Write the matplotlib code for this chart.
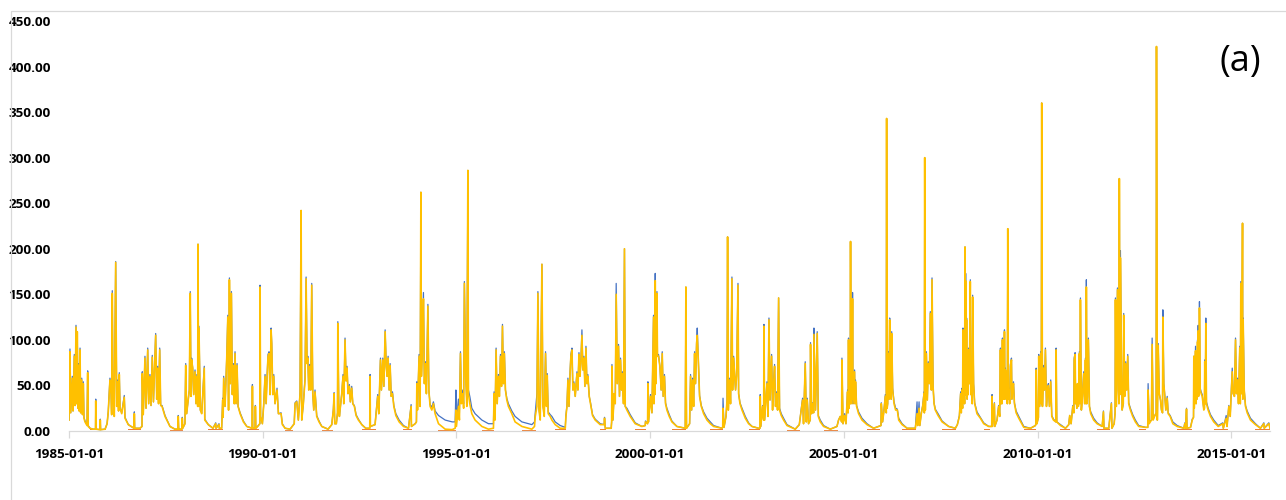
import matplotlib
matplotlib.use("Agg")
import matplotlib.pyplot as plt
from matplotlib.patches import Rectangle
import pandas as pd

# Daily discharge readings, one line per hydrological year (wet season peaks + recession)
dates = [
    "1985-01-01","1985-01-10","1985-01-17","1985-02-01","1985-02-08","1985-02-20","1985-02-27","1985-03-08","1985-03-15","1985-03-20","1985-03-27","1985-04-01","1985-04-07","1985-04-15","1985-04-21","1985-05-01","1985-05-08","1985-05-16","1985-05-22","1985-06-01","1985-06-20","1985-06-26","1985-07-01","1985-07-18","1985-08-15","1985-09-08","1985-09-10","1985-09-13","1985-10-20","1985-10-23","1985-10-26","1985-12-07","1985-12-26",
    "1986-01-06","1986-01-22","1986-02-01","1986-02-07","1986-02-13","1986-02-20","1986-03-04","1986-03-17","1986-03-27","1986-04-05","1986-04-13","1986-04-20","1986-04-27","1986-05-13","1986-06-06","1986-06-13","1986-07-14","1986-09-06","1986-09-09","1986-09-12","1986-11-01",
    "1986-11-20","1986-11-23","1986-12-02","1986-12-18","1986-12-28","1987-01-13","1987-01-22","1987-02-03","1987-02-13","1987-02-25","1987-03-08","1987-03-29","1987-04-08","1987-04-17","1987-04-25","1987-05-06","1987-05-15","1987-05-28","1987-06-25","1987-08-11","1987-09-27","1987-10-25","1987-10-28","1987-11-01","1987-12-02","1987-12-05","1987-12-09",
    "1987-12-30","1988-01-06","1988-01-15","1988-01-30","1988-02-09","1988-02-18","1988-02-25","1988-03-02","1988-03-12","1988-03-21","1988-04-03","1988-04-12","1988-04-21","1988-04-28","1988-05-01","1988-05-06","1988-05-10","1988-05-23","1988-06-05","1988-06-29","1988-07-04","1988-08-06","1988-09-19","1988-10-15","1988-10-18","1988-11-15","1988-11-18","1988-12-10",
    "1988-12-20","1988-12-24","1988-12-29","1989-01-11","1989-01-27","1989-02-06","1989-02-13","1989-02-21","1989-03-02","1989-03-12","1989-03-21","1989-03-30","1989-04-08","1989-04-15","1989-04-25","1989-05-04","1989-05-14","1989-06-02","1989-07-03","1989-08-04","1989-09-23","1989-09-26","1989-09-29","1989-10-21","1989-10-24","1989-10-28","1989-11-14",
    "1989-12-05","1989-12-07","1989-12-12","1989-12-29","1990-01-11","1990-01-23","1990-02-02","1990-02-11","1990-02-20","1990-03-02","1990-03-11","1990-03-21","1990-03-27","1990-04-06","1990-04-15","1990-04-27","1990-05-16","1990-05-29","1990-06-23","1990-07-05","1990-07-31","1990-09-16","1990-10-05",
    "1990-10-25","1990-11-02","1990-11-18","1990-12-03","1990-12-19","1990-12-29","1991-01-04","1991-01-19","1991-02-04","1991-02-14","1991-02-23","1991-03-02","1991-03-11","1991-03-20","1991-03-30","1991-04-08","1991-04-18","1991-04-27","1991-05-09","1991-05-25","1991-06-16","1991-07-12","1991-09-09",
    "1991-10-14","1991-10-29","1991-11-05","1991-11-11","1991-11-26","1991-12-07","1991-12-10","1991-12-19","1991-12-25","1992-01-16","1992-01-28","1992-02-04","1992-02-16","1992-02-26","1992-03-06","1992-03-15","1992-03-28","1992-04-06","1992-04-19","1992-04-29","1992-05-14","1992-05-30","1992-06-21","1992-07-23","1992-08-29","1992-10-06","1992-10-09","1992-10-12","1992-11-25",
    "1992-12-11","1992-12-20","1992-12-30","1993-01-15","1993-01-24","1993-02-06","1993-02-16","1993-02-28","1993-03-10","1993-03-19","1993-03-28","1993-04-07","1993-04-16","1993-04-26","1993-05-08","1993-05-21","1993-06-09","1993-07-10","1993-08-20","1993-10-06","1993-10-31","1993-11-03","1993-12-08",
    "1993-12-20","1993-12-24","1993-12-30","1994-01-14","1994-01-24","1994-01-31","1994-02-05","1994-02-15","1994-02-24","1994-03-05","1994-03-15","1994-03-24","1994-04-07","1994-04-16","1994-04-28","1994-05-14","1994-05-29","1994-06-14","1994-07-16","1994-09-17","1994-11-22","1994-12-20","1994-12-27","1995-01-01",
    "1995-01-20","1995-01-29","1995-02-08","1995-02-17","1995-03-02","1995-03-10","1995-03-17","1995-03-29","1995-04-09","1995-04-19","1995-04-24","1995-05-07","1995-05-26","1995-06-26","1995-08-29","1995-10-30","1995-12-16",
    "1995-12-22","1995-12-31","1996-01-10","1996-01-20","1996-02-01","1996-02-10","1996-02-20","1996-03-01","1996-03-10","1996-03-19","1996-03-28","1996-04-07","1996-04-20","1996-05-05","1996-06-06","1996-07-07","1996-09-09","1996-12-12","1997-01-06",
    "1997-01-13","1997-01-29","1997-02-07","1997-02-17","1997-03-01","1997-03-17","1997-03-26","1997-04-08","1997-04-20","1997-04-29","1997-05-06","1997-05-15","1997-06-03","1997-06-19","1997-07-20","1997-09-05","1997-10-23",
    "1997-10-29","1997-11-08","1997-11-17","1997-11-27","1997-12-06","1997-12-15","1997-12-25","1998-01-03","1998-01-12","1998-01-25","1998-02-10","1998-02-19","1998-03-01","1998-03-10","1998-03-19","1998-03-29","1998-04-07","1998-04-17","1998-04-26","1998-05-06","1998-05-15","1998-05-24","1998-06-06","1998-06-18","1998-07-07","1998-08-01","1998-09-17","1998-10-25","1998-10-28","1998-11-04","1998-12-30",
    "1999-01-03","1999-01-06","1999-01-15","1999-01-27","1999-02-06","1999-02-15","1999-02-25","1999-03-09","1999-03-18","1999-03-28","1999-04-06","1999-04-15","1999-04-25","1999-05-04","1999-05-11","1999-05-27","1999-06-27","1999-08-13","1999-10-15","1999-11-16","1999-11-18","1999-12-08","1999-12-11","1999-12-17",
    "2000-01-04","2000-01-18","2000-02-02","2000-02-06","2000-02-11","2000-02-14","2000-02-18","2000-02-24","2000-03-05","2000-03-10","2000-03-20","2000-04-02","2000-04-14","2000-04-24","2000-05-03","2000-05-15","2000-05-25","2000-06-07","2000-06-29","2000-07-24","2000-09-09","2000-11-27","2000-12-03","2000-12-09","2001-01-07",
    "2001-01-16","2001-01-26","2001-02-04","2001-02-14","2001-02-23","2001-03-04","2001-03-14","2001-03-20","2001-03-30","2001-04-11","2001-04-27","2001-05-19","2001-06-20","2001-07-21","2001-08-21","2001-11-08",
    "2001-11-15","2001-11-18","2001-11-27","2001-12-16","2001-12-26","2001-12-31","2002-01-07","2002-01-16","2002-01-28","2002-02-10","2002-02-16","2002-02-26","2002-03-07","2002-03-16","2002-03-26","2002-04-08","2002-04-14","2002-04-27","2002-05-16","2002-06-16","2002-07-17","2002-08-18","2002-10-19",
    "2002-11-01","2002-11-04","2002-11-09","2002-11-26","2002-12-06","2002-12-09","2002-12-15","2003-01-06","2003-01-16","2003-01-25","2003-02-04","2003-02-19","2003-02-28","2003-03-10","2003-03-19","2003-03-28","2003-04-07","2003-04-16","2003-04-26","2003-05-05","2003-05-21","2003-06-12","2003-07-14","2003-09-30","2003-11-07",
    "2003-12-08","2003-12-17","2004-01-02","2004-01-12","2004-01-21","2004-02-02","2004-02-18","2004-02-21","2004-03-02","2004-03-11","2004-03-21","2004-03-24","2004-03-30","2004-04-08","2004-04-24","2004-05-04","2004-05-23","2004-06-23","2004-08-25","2004-10-27","2004-11-11",
    "2004-11-27","2004-12-10","2004-12-13","2004-12-23","2005-01-07","2005-01-20","2005-02-04","2005-02-09","2005-02-13","2005-02-17","2005-02-23","2005-03-01","2005-03-04","2005-03-09","2005-03-14","2005-03-18","2005-03-23","2005-03-27","2005-04-01","2005-04-11","2005-04-15","2005-04-20","2005-04-30","2005-05-19","2005-06-20","2005-08-06","2005-10-07","2005-11-23",
    "2005-12-16","2005-12-19","2005-12-31","2006-01-14","2006-01-26","2006-02-04","2006-02-07","2006-02-12","2006-02-17","2006-02-26","2006-03-02","2006-03-08","2006-03-12","2006-03-17","2006-03-22","2006-03-27","2006-04-05","2006-04-18","2006-05-03","2006-05-19","2006-06-01","2006-07-03","2006-08-19","2006-11-05","2006-11-21","2006-11-27","2006-12-10","2006-12-17",
    "2006-12-31","2007-01-13","2007-01-26","2007-01-29","2007-02-01","2007-02-07","2007-02-17","2007-02-26","2007-03-07","2007-03-17","2007-03-26","2007-04-05","2007-04-11","2007-04-21","2007-04-30","2007-05-12","2007-06-07","2007-07-15","2007-09-15","2007-11-17","2007-12-06",
    "2007-12-25","2008-01-06","2008-01-12","2008-01-19","2008-01-24","2008-01-28","2008-02-02","2008-02-07","2008-02-12","2008-02-16","2008-02-19","2008-02-22","2008-02-26","2008-03-02","2008-03-07","2008-03-12","2008-03-17","2008-03-21","2008-03-28","2008-04-06","2008-04-11","2008-04-16","2008-04-24","2008-04-28","2008-05-07","2008-05-17","2008-06-08","2008-07-10","2008-08-10","2008-09-26","2008-10-25","2008-10-28","2008-11-02","2008-11-19","2008-11-23","2008-12-14",
    "2008-12-29","2009-01-08","2009-01-15","2009-01-20","2009-01-24","2009-01-29","2009-02-03","2009-02-08","2009-02-12","2009-02-17","2009-02-22","2009-02-27","2009-03-03","2009-03-13","2009-03-21","2009-03-25","2009-03-30","2009-04-05","2009-04-12","2009-04-19","2009-04-29","2009-05-03","2009-05-08","2009-05-18","2009-05-27","2009-06-12","2009-07-07","2009-08-23","2009-10-25","2009-12-11",
    "2009-12-15","2009-12-18","2009-12-25","2010-01-08","2010-01-11","2010-01-20","2010-01-30","2010-02-04","2010-02-08","2010-02-15","2010-02-24","2010-03-06","2010-03-15","2010-03-25","2010-04-03","2010-04-12","2010-04-22","2010-05-04","2010-05-14","2010-05-30","2010-06-21","2010-06-24","2010-06-30","2010-08-04","2010-09-20","2010-10-21",
    "2010-10-30","2010-11-12","2010-11-28","2010-12-08","2010-12-11","2010-12-20","2010-12-25","2010-12-30","2011-01-05","2011-01-11","2011-01-20","2011-01-29","2011-02-03","2011-02-08","2011-02-17","2011-02-27","2011-03-11","2011-03-20","2011-03-27","2011-04-01","2011-04-05","2011-04-10","2011-04-15","2011-04-24","2011-05-04","2011-05-16","2011-06-13","2011-07-15","2011-09-01","2011-09-13","2011-09-18","2011-11-02","2011-11-27","2011-12-02",
    "2011-12-23","2012-01-01","2012-01-04","2012-01-13","2012-01-23","2012-02-01","2012-02-06","2012-02-10","2012-02-15","2012-02-20","2012-03-01","2012-03-07","2012-03-18","2012-03-22","2012-03-31","2012-04-10","2012-04-19","2012-04-29","2012-05-08","2012-05-24","2012-06-15","2012-07-10","2012-08-10","2012-10-13","2012-11-04","2012-11-07","2012-11-17","2012-12-08","2012-12-15","2012-12-24",
    "2013-01-06","2013-01-22","2013-01-25","2013-02-02","2013-02-10","2013-02-20","2013-03-04","2013-03-13","2013-03-23","2013-03-26","2013-04-04","2013-04-13","2013-04-23","2013-05-06","2013-05-15","2013-06-03","2013-06-28","2013-08-08","2013-10-10","2013-10-19","2013-10-26","2013-11-04","2013-11-09","2013-12-12","2013-12-28",
    "2014-01-09","2014-01-12","2014-01-16","2014-01-20","2014-01-28","2014-02-02","2014-02-06","2014-02-11","2014-02-16","2014-02-19","2014-02-22","2014-02-25","2014-02-28","2014-03-03","2014-03-06","2014-03-13","2014-03-22","2014-04-01","2014-04-16","2014-04-22","2014-04-25","2014-04-30","2014-05-05","2014-05-11","2014-05-27","2014-06-18","2014-07-19","2014-08-30","2014-10-12","2014-10-17","2014-11-13","2014-11-21",
    "2014-12-08","2014-12-21","2015-01-09","2015-01-18","2015-01-30","2015-02-09","2015-02-18","2015-02-28","2015-03-09","2015-03-21","2015-03-26","2015-03-31","2015-04-08","2015-04-16","2015-04-19","2015-04-22","2015-05-02","2015-05-14","2015-05-30","2015-06-30","2015-08-16","2015-10-02","2015-11-03","2015-11-07","2015-12-20","2015-12-31",
]

gold = [
    12,87,20,58,22,82,28,114,30,109,25,72,22,89,20,56,18,52,14,10,6,64,5,3,2,2,33,2,1.5,12,1.5,2,8,
    21,56,45,18,151,41,16,185,27,54,22,62,25,19,37,14,7,3,19,3,3,
    5,63,18,80,25,89,30,60,28,81,32,105,35,69,30,89,28,27,16,5,2,2,16,2,2,14,3,
    8,72,19,34,45,151,38,78,69,40,65,30,60,27,205,27,113,23,19,69,12,7,3,8,3,7,3,3,
    34,15,58,27,80,125,23,166,52,151,40,72,30,85,30,72,27,19,10,5,3,49,3,3,27,3,5,
    8,158,16,8,30,60,30,58,82,85,40,111,96,40,60,30,45,19,19,7,3,2,5,
    8,30,32,12,41,242,12,30,56,167,74,80,45,71,45,160,41,23,43,16,10,5,2,
    7,23,41,8,8,20,118,27,16,41,60,30,100,55,69,41,49,32,47,30,27,17,12,7,3,3,60,5,7,
    27,38,19,78,45,78,49,109,71,60,80,45,72,38,41,27,17,10,5,3,27,5,8,
    10,52,23,82,27,262,60,100,145,52,74,41,137,45,27,23,30,19,8,2,1.5,3,23,5,
    27,12,85,30,41,25,162,60,27,286,41,30,19,12,5,2,3,
    41,12,89,30,60,38,82,49,115,52,85,45,34,27,19,10,5,2,5,
    16,27,151,23,12,183,27,16,85,27,61,19,16,12,7,3,3,
    16,27,56,27,60,82,89,45,52,38,63,45,84,60,74,105,67,80,49,91,52,60,38,30,17,12,7,7,14,3,3,
    10,71,12,41,30,150,52,93,38,78,45,63,30,200,27,23,16,8,5,6,10,8,52,10,
    38,20,125,30,89,40,165,52,151,82,82,71,45,85,38,60,30,23,16,10,5,3,158,3,8,
    60,23,56,27,85,52,96,105,78,38,27,19,12,8,5,3,
    4,25,4,16,34,213,23,56,30,167,45,80,63,45,60,160,41,30,23,14,8,5,3,
    3,38,5,27,12,115,12,52,16,122,34,82,23,52,71,27,41,23,146,23,17,12,6,2,7,
    34,8,74,10,34,8,12,95,19,30,20,106,71,23,107,16,10,5,2,5,12,
    16,10,78,8,17,8,43,20,100,25,60,30,208,30,107,35,145,30,41,65,30,54,27,19,12,7,3,5,
    6,30,10,23,38,20,343,25,30,85,35,122,40,71,35,107,45,30,23,23,12,7,3,3,19,6,25,6,
    19,27,41,20,300,23,85,34,74,52,129,45,166,49,30,23,17,10,5,3,7,
    16,41,20,45,25,111,35,60,30,202,40,165,40,122,35,71,40,89,52,164,40,45,30,147,52,30,19,14,8,5,5,38,5,30,5,12,
    27,16,89,30,52,30,100,35,60,35,109,35,67,38,30,222,35,45,30,71,78,35,45,52,30,20,14,4,3,6,
    8,67,8,15,82,27,85,30,360,27,69,45,89,27,45,50,27,54,16,12,10,89,10,6,3,7,
    17,8,27,20,78,84,30,38,25,52,27,85,30,144,23,38,63,30,78,30,158,30,38,100,27,19,12,8,5,21,3,3,30,3,
    8,20,144,27,155,45,30,277,40,190,71,23,30,127,38,74,45,82,30,23,16,10,5,4,4,45,8,12,95,12,
    16,20,422,12,94,41,34,23,20,125,52,38,23,36,19,16,8,5,3,8,3,24,3,4,12,
    15,82,25,41,88,30,60,35,98,40,110,38,71,40,135,45,41,38,23,25,76,30,118,30,23,16,10,5,8,3,14,5,
    27,16,65,41,38,100,41,56,30,91,30,162,41,228,35,122,45,27,20,12,7,3,8,3,8,3,
]

blue = [
    12,90,20,60,22,84,28,116,30,109,25,74,22,91,20,58,18,54,15,11,7,66,6,3,2,2,35,2,1.5,13,1.5,2,8,
    21,58,45,18,154,41,16,186,27,56,22,64,25,20,39,15,7,3,21,3,3,
    5,65,18,82,25,91,30,62,28,83,32,107,35,71,30,91,28,28,17,5,2,2,17,2,2,15,3,
    8,74,19,34,45,153,38,80,69,40,67,30,62,27,205,27,115,23,20,71,13,7,3,9,3,8,3,3,
    36,15,60,27,82,127,23,168,52,153,40,74,30,87,30,74,27,20,11,5,3,51,3,3,28,3,5,
    8,160,16,8,30,62,30,60,84,87,40,113,96,40,62,30,47,19,20,8,3,2,5,
    8,31,33,12,43,242,12,30,58,169,74,82,45,73,45,162,41,23,45,17,11,5,2,
    7,24,42,8,8,20,120,27,16,41,62,30,102,55,71,41,51,32,49,30,28,18,13,7,3,3,62,5,7,
    28,40,19,80,45,80,49,111,71,60,82,45,74,38,43,28,19,12,6,3,29,5,8,
    10,54,23,84,27,262,60,102,152,52,76,41,139,45,29,26,32,22,17,12,10,10,45,12,
    35,20,87,35,45,30,164,63,33,286,45,38,25,19,12,8,8,
    43,14,91,30,62,38,84,49,117,52,87,45,36,30,22,16,10,7,10,
    20,41,153,25,14,183,29,18,87,29,63,21,18,16,10,6,4,
    17,28,58,27,62,84,91,45,54,38,65,45,86,60,76,111,67,82,49,93,52,62,38,31,18,13,8,7,15,3,3,
    10,73,12,41,30,162,52,95,38,80,45,65,30,200,27,25,18,9,5,6,11,8,54,10,
    40,20,127,30,89,40,173,52,153,82,84,71,45,87,38,62,31,25,18,11,5,3,158,3,8,
    62,23,58,27,87,52,98,113,80,39,28,21,14,10,6,3,
    4,36,4,16,34,213,23,58,30,169,45,82,63,45,62,162,41,31,25,16,9,5,3,
    3,40,5,28,12,117,12,54,16,124,34,84,23,54,73,27,43,23,146,25,19,14,7,2,7,
    36,8,76,10,36,8,12,97,19,31,20,113,73,23,109,17,12,6,2,5,12,
    16,10,80,8,19,8,45,20,102,25,60,30,208,30,109,35,152,30,41,67,30,56,28,21,14,8,3,5,
    6,31,10,24,40,20,343,25,30,87,35,124,40,73,35,109,47,32,25,24,14,8,3,3,32,6,32,6,
    20,28,43,20,300,23,87,34,76,52,131,45,168,49,31,24,19,11,5,3,7,
    17,43,20,47,25,113,35,62,30,202,40,173,40,124,35,73,40,91,52,166,40,47,30,149,52,31,21,15,9,5,5,40,5,31,5,12,
    28,16,91,30,54,30,102,35,62,35,111,35,69,38,30,222,35,47,30,73,80,35,47,54,31,22,16,5,3,6,
    8,69,8,15,84,27,87,30,360,27,72,45,91,27,47,52,27,56,17,13,10,91,10,7,3,7,
    17,8,28,20,80,86,30,40,25,52,27,87,30,146,23,38,65,30,80,30,166,30,40,102,27,21,14,9,5,22,3,3,31,3,
    8,20,146,27,157,45,30,277,40,198,71,23,30,129,38,76,45,84,31,25,18,12,6,4,4,52,10,12,102,13,
    16,20,422,12,96,41,34,23,20,133,52,40,23,38,20,17,10,6,3,9,3,25,3,4,13,
    15,82,25,41,93,30,60,35,100,40,116,38,71,40,142,47,43,40,24,25,78,30,124,32,25,18,12,6,9,3,17,5,
    28,16,69,41,38,102,41,58,30,93,30,164,41,228,35,124,45,28,22,14,8,3,9,3,9,3,
]

# Dry-season base flow of the third series
orange_start = ["1985-07-18","1986-07-14","1987-08-11","1988-08-06","1989-08-04","1990-07-31","1991-07-12","1992-07-23",
                "1993-08-20","1994-07-16","1995-08-29","1996-09-09","1997-07-20","1998-09-17","1999-08-13","2000-07-24",
                "2001-07-21","2002-07-17","2003-07-14","2004-06-23","2005-08-06","2006-07-03","2007-07-15","2008-08-10",
                "2009-08-23","2010-08-04","2011-07-15","2012-08-10","2013-08-08","2014-07-19","2015-08-16"]
orange_end = ["1985-12-07","1986-11-01","1987-12-02","1988-12-10","1989-11-14","1990-10-05","1991-10-14","1992-11-25",
              "1993-11-03","1994-12-20","1995-12-16","1997-01-06","1997-10-23","1998-11-04","1999-11-16","2000-11-27",
              "2001-11-08","2002-10-19","2003-11-07","2004-10-27","2005-11-23","2006-11-05","2007-11-17","2008-09-26",
              "2009-12-11","2010-10-21","2011-11-02","2012-10-13","2013-12-12","2014-11-21","2015-12-31"]
orange_level = [1.8, 1.8, 1.6, 1.8, 1.8, 1.6, 1.6, 1.8, 1.8, 1.2, 1.2, 1.2, 1.8, 2.0, 2.0, 1.8,
                1.8, 1.8, 1.6, 1.6, 1.8, 1.8, 1.8, 2.0, 1.8, 1.8, 1.8, 1.8, 1.8, 1.8, 1.8]

tick_dates = ["1985-01-01", "1990-01-01", "1995-01-01", "2000-01-01", "2005-01-01", "2010-01-01", "2015-01-01"]
y_ticks = [0, 50, 100, 150, 200, 250, 300, 350, 400, 450]

assert len(dates) == len(gold) == len(blue), (len(dates), len(gold), len(blue))

BLUE = "#4472C4"
ORANGE = "#ED7D31"
GOLD = "#FFC000"
AXIS_GREY = "#D9D9D9"
LABEL_FONT = dict(family="Open Sans", weight="bold", size=9.7)

t = pd.to_datetime(dates)

W, H = 1286, 500
fig = plt.figure(figsize=(W / 100, H / 100), dpi=100)
ax = fig.add_axes([69 / W, 69 / H, 1201 / W, 410 / H])

ax.plot(t, blue, color=BLUE, lw=0.9, zorder=2)
for s, e, lvl in zip(orange_start, orange_end, orange_level):
    ax.plot(pd.to_datetime([s, e]), [lvl, lvl], color=ORANGE, lw=0.7, zorder=2.5)
ax.plot(t, gold, color=GOLD, lw=1.2, zorder=3)

ax.set_xlim(pd.Timestamp("1985-01-01"), pd.Timestamp("2015-12-31"))
ax.set_ylim(0, 450)

ax.set_yticks(y_ticks)
ax.set_yticklabels([f"{v:.2f}" for v in y_ticks], fontdict=LABEL_FONT)
ax.set_xticks(pd.to_datetime(tick_dates))
ax.set_xticklabels(tick_dates, fontdict=LABEL_FONT)

for side in ("top", "right", "left"):
    ax.spines[side].set_visible(False)
ax.spines["bottom"].set_color(AXIS_GREY)
ax.spines["bottom"].set_linewidth(0.9)
ax.tick_params(axis="y", length=0, pad=13, labelcolor="black")
ax.tick_params(axis="x", length=5, width=0.9, color=AXIS_GREY, pad=7, labelcolor="black")
ax.set_facecolor("white")

# Chart frame
fig.add_artist(Rectangle((11 / W, -0.2), 1.5, 1.2 - 11 / H, transform=fig.transFigure,
                         fill=False, edgecolor=AXIS_GREY, linewidth=0.9))

fig.text(1240 / W, 1 - 62 / H, "(a)", ha="center", va="center", fontsize=26, family="Open Sans", color="black")

fig.savefig("out.png", dpi=100, facecolor="white")
